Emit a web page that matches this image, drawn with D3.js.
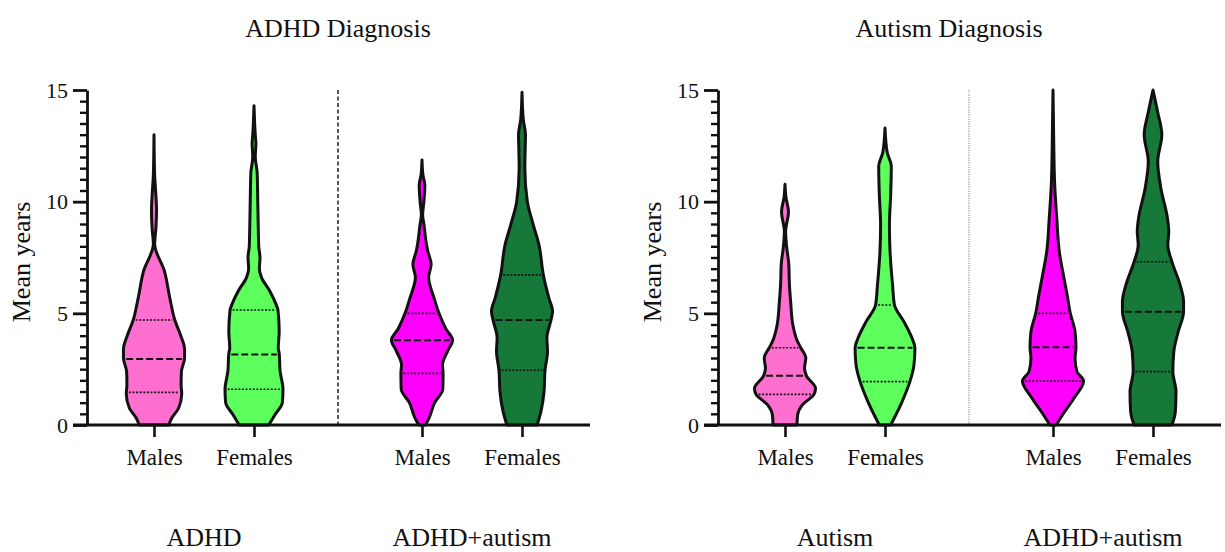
<!DOCTYPE html>
<html>
<head>
<meta charset="utf-8">
<script src="https://cdn.jsdelivr.net/npm/d3@7"></script>
<style>
  html, body { margin: 0; padding: 0; background: #fff; }
  text { font-family: "Liberation Serif", "Times New Roman", serif; fill: #111; }
</style>
</head>
<body>
<script>
// ---------------- DATA ----------------
const categories = ["Males", "Females"];
const leftGroups = ["ADHD", "ADHD+autism"];
const rightGroups = ["Autism", "ADHD+autism"];
const panelTitles = ["ADHD Diagnosis", "Autism Diagnosis"];
const yAxisLabel = "Mean years";
const yTicks = [0, 5, 10, 15];

// violin profiles: [value (years), relative density]
const adhdMales = [[0,0.47],[0.3,0.56],[0.75,0.78],[1.4,0.88],[1.8,0.86],[2.4,0.87],[3.0,0.97],[3.4,0.97],[4.0,0.85],[4.7,0.66],[5.7,0.5],[6.9,0.33],[8.1,0.02],[8.8,0.06],[9.6,0.08],[10.5,0.05],[11.2,0.02],[13.0,0]];
const adhdFemales = [[0,0.47],[0.45,0.66],[1.0,0.9],[1.6,0.92],[2.4,0.83],[3.2,0.8],[3.45,0.77],[4.2,0.8],[5.15,0.76],[5.4,0.7],[6.0,0.5],[6.6,0.24],[7.0,0.17],[7.5,0.19],[8.0,0.15],[8.5,0.14],[10.0,0.12],[11.3,0.1],[12.0,0.04],[12.6,0.06],[13.0,0.04],[14.3,0]];
const adhdAutMales = [[0,0.1],[0.3,0.22],[1.0,0.4],[1.6,0.66],[2.3,0.67],[2.7,0.65],[3.3,0.81],[3.8,0.97],[4.3,0.76],[5.0,0.54],[5.7,0.38],[6.6,0.21],[7.2,0.29],[7.8,0.18],[8.1,0.14],[9.0,0.06],[9.4,0.02],[10.0,0.06],[10.75,0.09],[11.2,0.03],[11.87,0]];
const adhdAutFemales = [[0,0.48],[0.6,0.6],[1.5,0.7],[2.45,0.73],[3.3,0.81],[3.9,0.79],[4.7,0.92],[5.1,0.97],[5.7,0.85],[6.7,0.68],[8.06,0.54],[9.0,0.35],[10.0,0.17],[11.5,0.09],[12.3,0.1],[13.0,0.11],[13.7,0.04],[14.9,0]];
const autMales = [[0,0.38],[0.45,0.4],[0.9,0.55],[1.37,0.92],[1.64,0.97],[2.2,0.68],[2.54,0.62],[3.0,0.66],[3.46,0.5],[3.73,0.4],[4.48,0.25],[5.5,0.18],[6.3,0.14],[7.2,0.12],[8.0,0.05],[8.66,0.02],[9.55,0.11],[10.2,0.03],[10.78,0]];
const autFemales = [[0,0.18],[0.3,0.29],[1.04,0.54],[1.94,0.79],[2.69,0.92],[3.46,0.95],[3.88,0.86],[4.63,0.6],[5.37,0.3],[6.27,0.24],[7.76,0.16],[8.96,0.14],[10.3,0.18],[11.6,0.2],[12.2,0.07],[13.3,0]];
const autAdhdMales = [[0,0.1],[0.45,0.3],[1.19,0.66],[1.97,0.97],[2.39,0.76],[2.99,0.7],[3.48,0.73],[4.18,0.7],[5.0,0.55],[5.82,0.45],[6.57,0.35],[7.76,0.2],[9.25,0.12],[10.9,0.05],[13.0,0.02],[15.0,0]];
const autAdhdFemales = [[0,0.6],[0.6,0.71],[1.5,0.73],[2.39,0.63],[3.28,0.66],[4.18,0.8],[5.07,0.97],[5.52,0.97],[6.27,0.86],[7.31,0.6],[8.06,0.47],[8.66,0.5],[9.25,0.46],[10.6,0.25],[11.8,0.15],[13.0,0.28],[14.0,0.15],[15.0,0]];

// quartiles: [Q1, median, Q3]
const adhdMalesQ = [1.46, 2.96, 4.7];
const adhdFemalesQ = [1.6, 3.16, 5.15];
const adhdAutMalesQ = [2.31, 3.79, 5.0];
const adhdAutFemalesQ = [2.45, 4.7, 6.72];
const autMalesQ = [1.37, 2.2, 3.46];
const autFemalesQ = [1.94, 3.46, 5.37];
const autAdhdMalesQ = [1.97, 3.48, 5.0];
const autAdhdFemalesQ = [2.39, 5.07, 7.31];

const singleColors = ["#ff6fcf", "#5cff5c"];
const comorbidColors = ["#ff00ff", "#16793a"];

// ---------------- DRAW ----------------
const W = 1225, H = 552;
const svg = d3.select("body").append("svg").attr("width", W).attr("height", H);
svg.append("rect").attr("width", W).attr("height", H).attr("fill", "#fff");

const y = d3.scaleLinear().domain([0, 15]).range([425, 90]);
const w = d3.scaleLinear().domain([0, 1]).range([0, 31.5]);
const inner = d3.scalePoint().domain(categories).range([-50, 50]);

const panels = [
  { offset: 0, title: panelTitles[0], titleX: 338, groups: leftGroups, divider: "dashed",
    violins: [[adhdMales, adhdMalesQ, adhdFemales, adhdFemalesQ, singleColors],
              [adhdAutMales, adhdAutMalesQ, adhdAutFemales, adhdAutFemalesQ, comorbidColors]] },
  { offset: 631, title: panelTitles[1], titleX: 318, groups: rightGroups, divider: "dotted",
    violins: [[autMales, autMalesQ, autFemales, autFemalesQ, singleColors],
              [autAdhdMales, autAdhdMalesQ, autAdhdFemales, autAdhdFemalesQ, comorbidColors]] }
];

const area = d3.area()
  .curve(d3.curveMonotoneY)
  .y(d => y(d[0]))
  .x0(d => -w(d[1]))
  .x1(d => w(d[1]));

panels.forEach(p => {
  const g = svg.append("g").attr("transform", `translate(${p.offset},0)`);
  const outer = d3.scaleBand().domain(p.groups).range([70, 606]).padding(0);
  const gc = gname => outer(gname) + outer.bandwidth() / 2;

  // title
  g.append("text").attr("x", p.titleX).attr("y", 37).attr("text-anchor", "middle")
    .style("font-size", "26px").text(p.title);

  // y label
  g.append("text").attr("transform", `translate(30,${262}) rotate(-90)`)
    .attr("text-anchor", "middle").style("font-size", "26px").text(yAxisLabel);

  // divider
  const dx = outer(p.groups[1]);
  g.append("line").attr("x1", dx).attr("x2", dx).attr("y1", y(15)).attr("y2", y(0))
    .attr("stroke", p.divider === "dashed" ? "#111" : "#888")
    .attr("stroke-width", p.divider === "dashed" ? 1.4 : 1.1)
    .attr("stroke-dasharray", p.divider === "dashed" ? "4,2.5" : "1.2,1.2");

  // violins
  p.groups.forEach((gname, gi) => {
    const [mProf, mQ, fProf, fQ, cols] = p.violins[gi];
    [[mProf, mQ], [fProf, fQ]].forEach(([prof, q], si) => {
      const cx = gc(gname) + inner(categories[si]);
      const vg = g.append("g").attr("transform", `translate(${cx},0)`);
      vg.append("path").datum(prof).attr("d", area)
        .attr("fill", cols[si]).attr("stroke", "#111").attr("stroke-width", 3)
        .attr("stroke-linejoin", "round");
      const dens = d3.scaleLinear().domain(prof.map(d => d[0])).range(prof.map(d => d[1]));
      q.forEach((v, qi) => {
        const hw = Math.max(0, w(dens(v)) - 2.5);
        vg.append("line").attr("x1", -hw).attr("x2", hw).attr("y1", y(v)).attr("y2", y(v))
          .attr("stroke", "#111")
          .attr("stroke-width", qi === 1 ? 2 : 1.6)
          .attr("stroke-dasharray", qi === 1 ? "7,3" : "2,1.6");
      });
    });

    // x ticks and category labels
    const xa = d3.axisBottom(inner).tickSize(12).tickPadding(12);
    const xg = g.append("g").attr("transform", `translate(${gc(gname)},${y(0)})`).call(xa);
    xg.select(".domain").remove();
    xg.selectAll(".tick line").attr("stroke", "#111").attr("stroke-width", 2.6);
    xg.selectAll(".tick text").style("font-size", "23px")
      .style("font-family", '"Liberation Serif", serif').attr("fill", "#111");

    // bottom group labels
    g.append("text").attr("x", gc(gname)).attr("y", 546).attr("text-anchor", "middle")
      .style("font-size", "26px").text(gname);
  });

  // x axis line
  g.append("line").attr("x1", 73).attr("x2", 590).attr("y1", y(0)).attr("y2", y(0))
    .attr("stroke", "#111").attr("stroke-width", 2.8);

  // y axis minor ticks
  const minor = d3.range(0.5, 15, 0.5).filter(v => v % 5 !== 0);
  const ym = g.append("g").attr("transform", "translate(87,0)")
    .call(d3.axisLeft(y).tickValues(minor).tickSize(7).tickFormat(""));
  ym.select(".domain").remove();
  ym.selectAll(".tick line").attr("stroke", "#111").attr("stroke-width", 2.4);

  // y axis major
  const ya = g.append("g").attr("transform", "translate(87,0)")
    .call(d3.axisLeft(y).tickValues(yTicks).tickSize(14).tickSizeOuter(0).tickPadding(5));
  ya.select(".domain").attr("stroke", "#111").attr("stroke-width", 2.8);
  ya.selectAll(".tick line").attr("stroke", "#111").attr("stroke-width", 2.8);
  ya.selectAll(".tick text").style("font-size", "22px")
    .style("font-family", '"Liberation Serif", serif').attr("fill", "#111");
});
</script>
</body>
</html>
